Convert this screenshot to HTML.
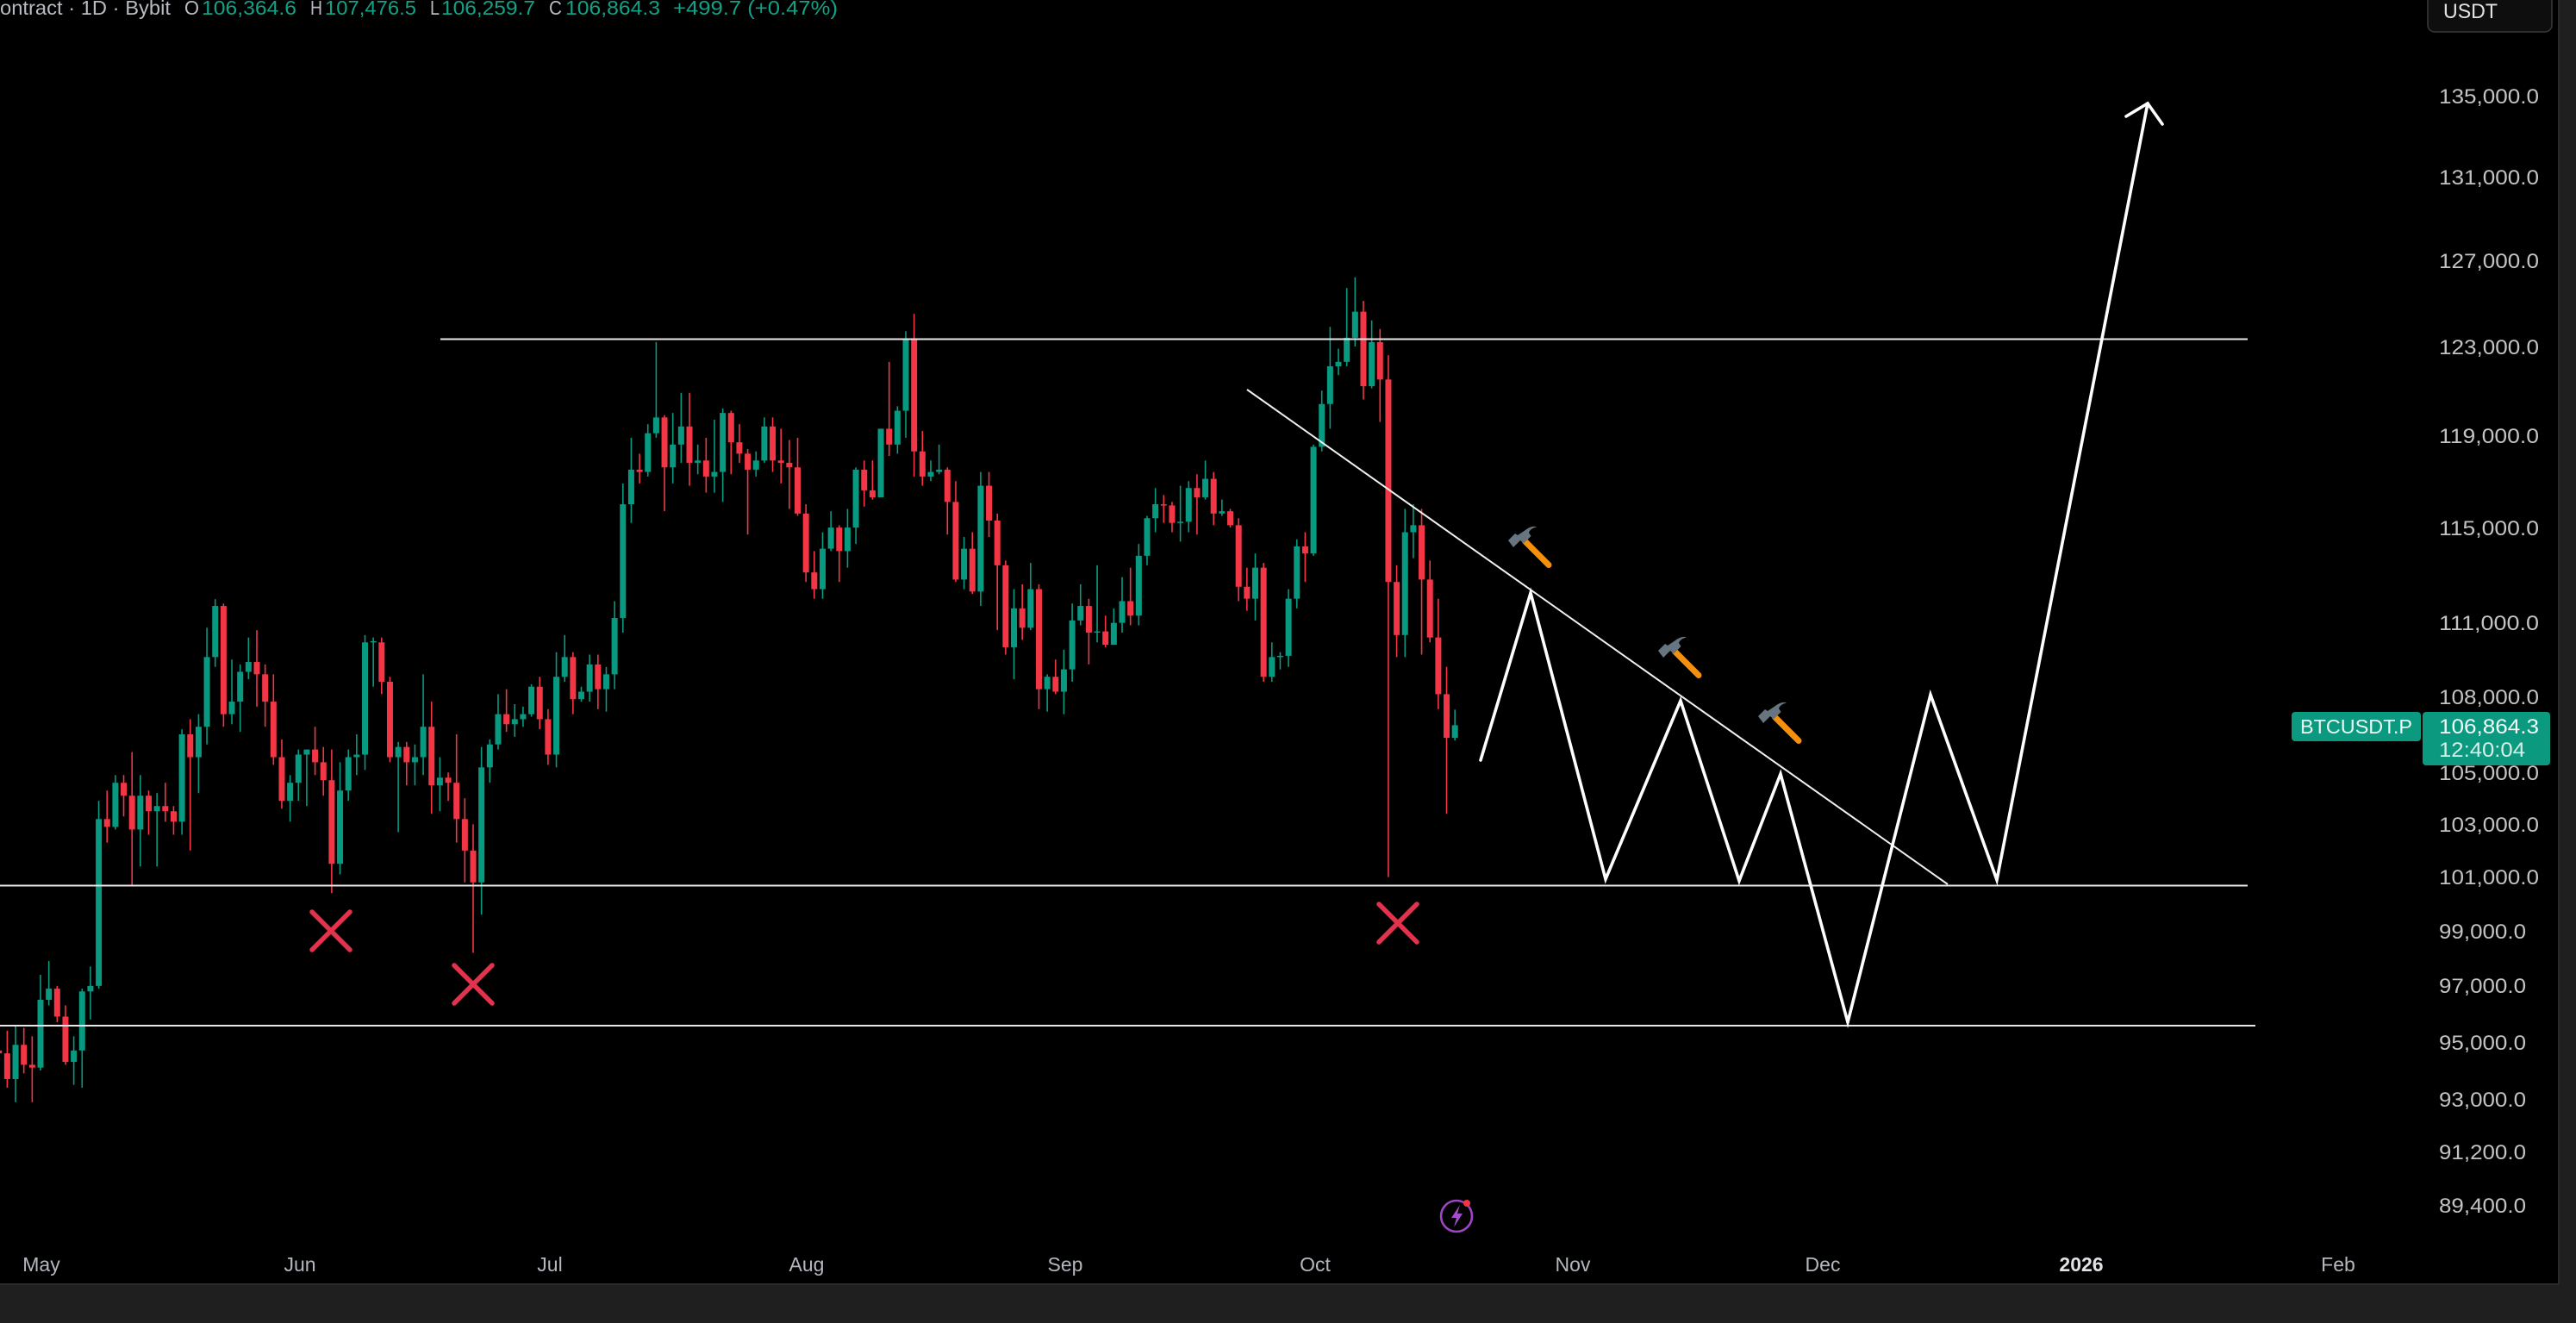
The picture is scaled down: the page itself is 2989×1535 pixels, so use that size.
<!DOCTYPE html>
<html>
<head>
<meta charset="utf-8">
<style>
  html,body{margin:0;padding:0;background:#000;}
  body{width:2989px;height:1535px;overflow:hidden;}
  svg{display:block;}
  text{font-family:"Liberation Sans", sans-serif;}
</style>
</head>
<body>
<svg id="chart" width="2989" height="1535" viewBox="0 0 2989 1535" xmlns="http://www.w3.org/2000/svg">
  <rect x="0" y="0" width="2989" height="1535" fill="#000"/>

  <!-- candles inserted here -->
  <g id="candles"></g>

  <!-- horizontal levels -->
  <line x1="511" y1="393.5" x2="2608" y2="393.5" stroke="#e8e8e8" stroke-width="2"/>
  <line x1="0" y1="1027.5" x2="2608" y2="1027.5" stroke="#e8e8e8" stroke-width="2"/>
  <line x1="0" y1="1190" x2="2617" y2="1190" stroke="#e8e8e8" stroke-width="2"/>

  <!-- descending trendline -->
  <line x1="1447" y1="452" x2="2260" y2="1026" stroke="#f0f0f0" stroke-width="2"/>

  <!-- projected zigzag path -->
  <polyline points="1718,882 1776,688 1863,1020 1950,813 2018,1022 2066,898 2144,1186 2240,806 2317,1021 2492,120"
            fill="none" stroke="#ffffff" stroke-width="3.6" stroke-linejoin="miter" stroke-linecap="round"/>
  <polyline points="2467,135 2492,120 2509,144" fill="none" stroke="#ffffff" stroke-width="3.6" stroke-linecap="round" stroke-linejoin="miter"/>

  <!-- red X marks -->
  <g stroke="#e3324b" stroke-width="5.5" stroke-linecap="round">
    <line x1="362" y1="1058" x2="406" y2="1102"/><line x1="406" y1="1058" x2="362" y2="1102"/>
    <line x1="527" y1="1120" x2="571" y2="1164"/><line x1="571" y1="1120" x2="527" y2="1164"/>
    <line x1="1600" y1="1049" x2="1644" y2="1093"/><line x1="1644" y1="1049" x2="1600" y2="1093"/>
  </g>

  <!-- hammers -->
  <defs>
    <g id="hammer">
      <line x1="19.5" y1="18" x2="47" y2="45.5" stroke="#f4900c" stroke-width="7" stroke-linecap="round"/>
      <path d="M0,17 L8,9 L11,11 L20,5 C25,1 30,0 33,1.5 C28,2.5 25,5 24,8 L26.5,12 L18,20.5 L14,17 L6,25 Z" fill="#66757f"/>
    </g>
  </defs>
  <use href="#hammer" x="1750" y="610"/>
  <use href="#hammer" x="1924" y="738"/>
  <use href="#hammer" x="2040" y="814"/>

  <!-- lightning icon -->
  <circle cx="1690" cy="1411" r="18" fill="none" stroke="#9d45c4" stroke-width="2.6"/>
  <path d="M1694,1398 L1684,1413 L1690,1413 L1687,1424 L1697,1408 L1691,1408 Z" fill="#a44cca"/>
  <circle cx="1702" cy="1396" r="4" fill="#f23645"/>

  <!-- header -->
  <g font-size="23">
    <text x="0" y="17" fill="#b8bbc2" textLength="198" lengthAdjust="spacingAndGlyphs">ontract · 1D · Bybit</text>
    <text x="214" y="17" fill="#b8bbc2" textLength="17" lengthAdjust="spacingAndGlyphs">O</text>
    <text x="234" y="17" fill="#12a086" textLength="110" lengthAdjust="spacingAndGlyphs">106,364.6</text>
    <text x="360" y="17" fill="#b8bbc2" textLength="14" lengthAdjust="spacingAndGlyphs">H</text>
    <text x="377" y="17" fill="#12a086" textLength="106" lengthAdjust="spacingAndGlyphs">107,476.5</text>
    <text x="499" y="17" fill="#b8bbc2" textLength="11" lengthAdjust="spacingAndGlyphs">L</text>
    <text x="512" y="17" fill="#12a086" textLength="109" lengthAdjust="spacingAndGlyphs">106,259.7</text>
    <text x="637" y="17" fill="#b8bbc2" textLength="15" lengthAdjust="spacingAndGlyphs">C</text>
    <text x="656" y="17" fill="#12a086" textLength="110" lengthAdjust="spacingAndGlyphs">106,864.3</text>
    <text x="781" y="17" fill="#12a086" textLength="191" lengthAdjust="spacingAndGlyphs">+499.7 (+0.47%)</text>
  </g>

  <!-- price axis labels -->
  <g font-size="24" fill="#c3c3c3">
    <text x="2830" y="120" textLength="116" lengthAdjust="spacingAndGlyphs">135,000.0</text>
    <text x="2830" y="214" textLength="116" lengthAdjust="spacingAndGlyphs">131,000.0</text>
    <text x="2830" y="311" textLength="116" lengthAdjust="spacingAndGlyphs">127,000.0</text>
    <text x="2830" y="411" textLength="116" lengthAdjust="spacingAndGlyphs">123,000.0</text>
    <text x="2830" y="514" textLength="116" lengthAdjust="spacingAndGlyphs">119,000.0</text>
    <text x="2830" y="621" textLength="116" lengthAdjust="spacingAndGlyphs">115,000.0</text>
    <text x="2830" y="731" textLength="116" lengthAdjust="spacingAndGlyphs">111,000.0</text>
    <text x="2830" y="817" textLength="116" lengthAdjust="spacingAndGlyphs">108,000.0</text>
    <text x="2830" y="905" textLength="116" lengthAdjust="spacingAndGlyphs">105,000.0</text>
    <text x="2830" y="965" textLength="116" lengthAdjust="spacingAndGlyphs">103,000.0</text>
    <text x="2830" y="1026" textLength="116" lengthAdjust="spacingAndGlyphs">101,000.0</text>
    <text x="2830" y="1089" textLength="101" lengthAdjust="spacingAndGlyphs">99,000.0</text>
    <text x="2830" y="1152" textLength="101" lengthAdjust="spacingAndGlyphs">97,000.0</text>
    <text x="2830" y="1218" textLength="101" lengthAdjust="spacingAndGlyphs">95,000.0</text>
    <text x="2830" y="1284" textLength="101" lengthAdjust="spacingAndGlyphs">93,000.0</text>
    <text x="2830" y="1345" textLength="101" lengthAdjust="spacingAndGlyphs">91,200.0</text>
    <text x="2830" y="1407" textLength="101" lengthAdjust="spacingAndGlyphs">89,400.0</text>
  </g>

  <!-- USDT box -->
  <rect x="2817" y="-10" width="144" height="47" rx="8" ry="8" fill="#0e0e0e" stroke="#3a3a3a" stroke-width="1.5"/>
  <text x="2835" y="21" font-size="24" fill="#e2e2e2" textLength="63" lengthAdjust="spacingAndGlyphs">USDT</text>

  <!-- symbol & price labels -->
  <rect x="2659" y="826" width="150" height="34" rx="4" ry="4" fill="#0b9a80"/>
  <text x="2669" y="851" font-size="23" fill="#eafaf5" textLength="130" lengthAdjust="spacingAndGlyphs">BTCUSDT.P</text>
  <rect x="2811" y="826" width="148" height="62" rx="4" ry="4" fill="#0b9a80"/>
  <text x="2830" y="851" font-size="24" fill="#f2fbf8" textLength="116" lengthAdjust="spacingAndGlyphs">106,864.3</text>
  <text x="2830" y="878" font-size="24" fill="#d6f0e9" textLength="100" lengthAdjust="spacingAndGlyphs">12:40:04</text>

  <!-- time axis labels -->
  <g font-size="23" fill="#b4b7be" text-anchor="middle">
    <text x="48" y="1475">May</text>
    <text x="348" y="1475">Jun</text>
    <text x="638" y="1475">Jul</text>
    <text x="936" y="1475">Aug</text>
    <text x="1236" y="1475">Sep</text>
    <text x="1526" y="1475">Oct</text>
    <text x="1825" y="1475">Nov</text>
    <text x="2115" y="1475">Dec</text>
    <text x="2415" y="1475" fill="#e0e2e6" font-weight="bold">2026</text>
    <text x="2713" y="1475">Feb</text>
  </g>

  <!-- frame bands -->
  <rect x="0" y="1490" width="2989" height="45" fill="#1f1f1f"/>
  <rect x="0" y="1489" width="2968" height="2" fill="#2c2c2c"/>
  <rect x="2968" y="0" width="21" height="1535" fill="#1f1f1f"/>
  <rect x="2968" y="0" width="2" height="1491" fill="#2a2a2a"/>
</svg>

<script>
(function(){
  var D = [
  // Apr 26-30
  [94.7,95.3,93.9,94.6],[94.6,95.4,93.4,93.7],[93.7,95.6,92.9,94.9],[94.9,95.5,93.9,94.2],[94.2,95.2,92.9,94.1],
  // May 1-31
  [94.1,97.4,94.0,96.5],[96.5,97.9,96.3,96.9],[96.9,97.0,95.7,95.9],[95.9,96.3,94.2,94.3],[94.3,95.2,93.5,94.7],
  [94.7,96.9,93.4,96.8],[96.8,97.7,95.8,97.0],[97.0,103.9,96.9,103.2],[103.2,104.3,102.3,102.9],[102.9,104.9,102.8,104.6],
  [104.6,104.9,103.3,104.1],[104.1,105.8,100.7,102.8],[102.8,104.9,101.4,104.1],[104.1,104.3,102.6,103.5],[103.5,104.2,101.4,103.7],
  [103.7,104.6,103.1,103.5],[103.5,103.7,102.6,103.1],[103.1,106.7,102.6,106.5],[106.5,107.1,102.0,105.6],[105.6,107.3,104.2,106.8],
  [106.8,110.8,106.1,109.6],[109.6,111.98,109.2,111.7],[111.7,111.8,106.8,107.3],[107.3,109.5,106.9,107.8],[107.8,109.3,106.6,109.0],
  [109.0,110.4,108.7,109.4],[109.4,110.7,107.6,108.9],[108.9,109.3,106.8,107.8],[107.8,108.9,105.3,105.6],[105.6,106.3,103.6,103.9],
  [103.9,104.9,103.1,104.6],
  // Jun 1-30
  [104.6,105.9,103.9,105.7],[105.7,105.9,103.7,105.9],[105.9,106.8,104.9,105.4],[105.4,106.0,104.1,104.7],[104.7,105.9,100.4,101.5],
  [101.5,105.4,101.1,104.3],[104.3,105.9,103.9,105.6],[105.6,106.5,104.9,105.7],[105.7,110.5,105.1,110.2],[110.2,110.4,108.4,110.25],
  [110.2,110.4,108.1,108.6],[108.6,108.8,105.4,105.6],[105.6,106.2,102.7,106.0],[106.0,106.2,104.5,105.4],[105.4,106.1,104.5,105.6],
  [105.6,108.9,104.9,106.8],[106.8,107.8,103.4,104.5],[104.5,105.6,103.5,104.8],[104.8,105.0,103.9,104.6],[104.6,106.5,102.3,103.2],
  [103.2,104.0,100.8,102.0],[102.0,103.0,98.2,100.8],[100.8,106.0,99.6,105.2],[105.2,106.3,104.6,106.1],[106.1,108.1,105.9,107.3],
  [107.3,108.3,106.6,106.9],[106.9,107.7,106.4,107.1],[107.1,107.6,106.8,107.3],[107.3,108.5,107.2,108.4],[108.4,108.8,106.7,107.1],
  // Jul 1-31
  [107.1,107.5,105.3,105.7],[105.7,109.8,105.2,108.8],[108.8,110.5,108.6,109.6],[109.6,109.8,107.3,107.9],[107.9,108.4,107.8,108.2],
  [108.2,109.7,107.8,109.3],[109.3,109.7,107.5,108.3],[108.3,109.2,107.4,108.9],[108.9,111.9,108.3,111.2],[111.2,116.9,110.6,116.0],
  [116.0,118.9,115.2,117.5],[117.5,118.2,116.9,117.4],[117.4,119.5,117.2,119.1],[119.1,123.2,118.9,119.8],[119.8,119.9,115.7,117.6],
  [117.6,120.0,116.9,118.6],[118.6,120.9,117.8,119.4],[119.4,120.9,116.8,117.8],[117.8,118.6,117.3,117.9],[117.9,118.9,116.5,117.2],
  [117.2,119.7,116.5,117.4],[117.4,120.2,116.1,120.0],[120.0,120.1,117.3,118.7],[118.7,119.5,117.8,118.2],[118.2,118.4,114.7,117.5],
  [117.5,118.3,117.2,117.9],[117.9,119.8,117.8,119.4],[119.4,119.8,117.4,117.9],[117.9,119.3,116.9,117.8],[117.8,118.8,115.8,117.6],
  [117.6,118.9,115.5,115.6],
  // Aug 1-31
  [115.6,116.0,112.7,113.1],[113.1,114.0,112.0,112.4],[112.4,114.8,112.0,114.1],[114.1,115.7,114.0,115.0],[115.0,115.1,112.7,114.0],
  [114.0,115.8,113.3,115.0],[115.0,117.6,114.3,117.5],[117.5,117.9,115.9,116.6],[116.6,117.9,116.2,116.3],[116.3,119.3,116.3,119.3],
  [119.3,122.3,118.1,118.6],[118.6,120.3,118.2,120.1],[120.1,123.7,118.9,123.3],[123.3,124.5,117.2,118.3],[118.3,119.2,116.8,117.2],
  [117.2,117.9,117.0,117.4],[117.4,118.6,117.3,117.5],[117.5,117.6,114.7,116.1],[116.1,117.0,112.7,112.8],[112.8,114.6,112.4,114.1],
  [114.1,114.8,112.2,112.3],[112.3,117.4,111.7,116.8],[116.8,117.4,114.6,115.3],[115.3,115.6,110.7,113.4],[113.4,113.6,109.7,110.0],
  [110.0,112.4,108.7,111.6],[111.6,112.6,110.3,110.8],[110.8,113.5,110.7,112.4],[112.4,112.6,107.5,108.3],[108.3,108.9,107.4,108.8],
  [108.8,109.5,108.1,108.2],
  // Sep 1-30
  [108.2,109.9,107.3,109.1],[109.1,111.8,108.6,111.1],[111.1,112.6,110.9,111.7],[111.7,112.0,109.3,110.6],[110.6,113.4,110.2,110.65],
  [110.65,111.3,110.0,110.1],[110.1,111.6,110.1,111.0],[111.0,112.9,110.6,111.9],[111.9,113.3,110.9,111.3],[111.3,114.3,110.9,113.8],
  [113.8,115.5,113.4,115.4],[115.4,116.7,114.8,116.0],[116.0,116.4,115.2,115.95],[115.95,116.1,114.8,115.2],[115.2,116.8,114.4,115.25],
  [115.25,117.0,114.8,116.7],[116.7,117.3,114.7,116.3],[116.3,117.9,116.2,117.1],[117.1,117.4,115.1,115.6],[115.6,116.2,115.5,115.7],
  [115.7,115.8,115.0,115.1],[115.1,115.4,111.9,112.5],[112.5,113.3,111.5,112.0],[112.0,113.9,111.1,113.3],[113.3,113.5,108.6,108.8],
  [108.8,110.2,108.6,109.6],[109.6,109.8,109.1,109.65],[109.65,112.4,109.2,112.0],[112.0,114.5,111.6,114.2],[114.2,114.8,112.7,113.9],
  // Oct 1-18
  [113.9,118.6,113.8,118.5],[118.5,121.0,118.3,120.4],[120.4,123.9,119.3,122.1],[122.1,122.9,121.7,122.3],[122.3,125.7,122.1,123.4],
  [123.4,126.2,123.0,124.6],[124.6,125.1,120.6,121.2],[121.2,124.2,121.1,123.2],[123.2,123.8,119.6,121.5],[121.5,122.6,101.0,112.7],
  [112.7,113.4,109.6,110.5],[110.5,115.8,109.6,114.8],[114.8,116.0,113.7,115.1],[115.1,115.8,109.7,112.8],[112.8,113.6,110.2,110.4],
  [110.4,112.0,107.5,108.1],[108.1,109.2,103.4,106.36],[106.36,107.48,106.26,106.86]
  ];
  var NS = "http://www.w3.org/2000/svg";
  var g = document.getElementById("candles");
  function Y(p){ return 402 - 3124*Math.log(p/123); }
  var X0 = 47, DX = 9.654, BW = 7, WW = 1.6;
  var html = "";
  for (var i=0;i<D.length;i++){
    var d = i-5;
    var x = X0 + d*DX;
    var o=D[i][0], h=D[i][1], l=D[i][2], c=D[i][3];
    var col = (c>=o) ? "#089981" : "#f23645";
    var yh=Y(h), yl=Y(l), yt=Y(Math.max(o,c)), yb=Y(Math.min(o,c));
    var bh = Math.max(yb-yt, 1.5);
    html += '<rect x="'+(x-WW/2).toFixed(2)+'" y="'+yh.toFixed(2)+'" width="'+WW+'" height="'+(yl-yh).toFixed(2)+'" fill="'+col+'"/>';
    html += '<rect x="'+(x-BW/2).toFixed(2)+'" y="'+yt.toFixed(2)+'" width="'+BW+'" height="'+bh.toFixed(2)+'" fill="'+col+'"/>';
  }
  g.innerHTML = html;
})();
</script>
</body>
</html>
